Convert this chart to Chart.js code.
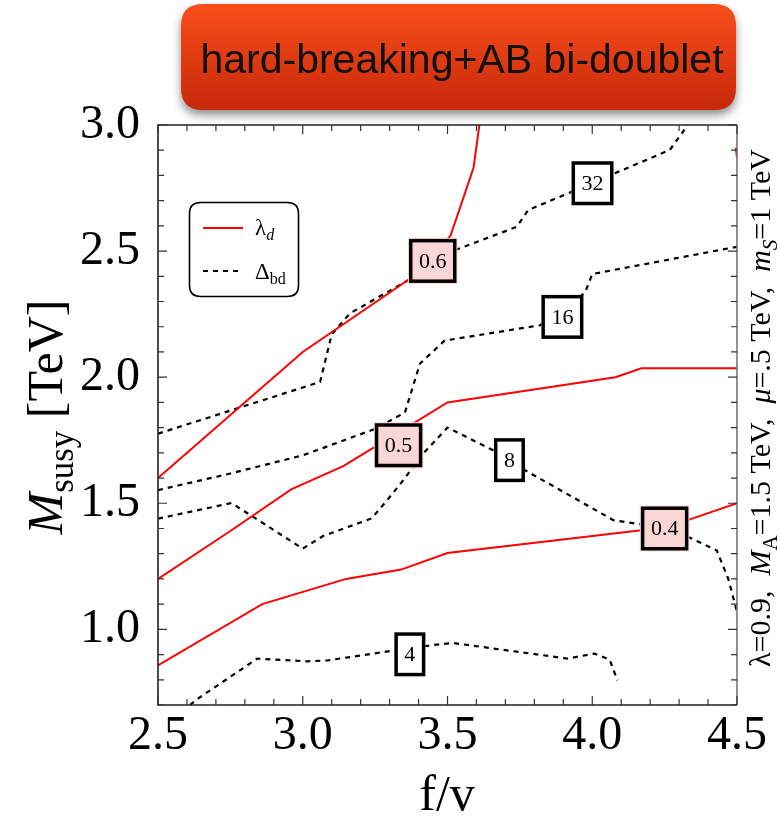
<!DOCTYPE html>
<html>
<head>
<meta charset="utf-8">
<script src="https://cdn.jsdelivr.net/npm/chart.js@4.4.0/dist/chart.umd.min.js"></script>
<style>
  html, body { margin: 0; padding: 0; background: #fff; }
  #wrap { width: 780px; height: 820px; }
</style>
</head>
<body>
<div id="wrap"><canvas id="myChart" width="780" height="820"></canvas></div>
<script>
// lambda_d contours (red), f/v on x, M_susy [TeV] on y
var lam07X = [4.496, 4.5];
var lam07Y = [2.91, 2.87];
var lam06X = [2.5, 3.0, 3.37, 3.51, 3.59, 3.61];
var lam06Y = [1.6, 2.1, 2.39, 2.56, 2.83, 3.0];
var lam05X = [2.5, 2.75, 2.96, 3.14, 3.33, 3.5, 4.08, 4.17, 4.5];
var lam05Y = [1.2, 1.39, 1.555, 1.647, 1.78, 1.9, 2.0, 2.035, 2.035];
var lam04X = [2.5, 2.86, 3.15, 3.34, 3.5, 4.17, 4.33, 4.5];
var lam04Y = [0.857, 1.10, 1.20, 1.237, 1.303, 1.393, 1.433, 1.50];

// Delta_bd contours (dashed black)
var del32X = [2.5, 3.06, 3.1, 3.163, 3.365, 3.526, 3.739, 3.779, 3.917, 4.073, 4.268, 4.33];
var del32Y = [1.776, 1.981, 2.17, 2.253, 2.385, 2.504, 2.596, 2.663, 2.729, 2.806, 2.901, 3.0];
var del16X = [2.5, 2.75, 3.0, 3.25, 3.353, 3.405, 3.49, 3.82, 3.975, 4.0, 4.5];
var del16Y = [1.552, 1.618, 1.69, 1.795, 1.86, 2.054, 2.145, 2.206, 2.335, 2.409, 2.517];
var del8X = [2.5, 2.754, 3.0, 3.07, 3.238, 3.29, 3.347, 3.416, 3.5, 3.658, 3.768, 4.073, 4.165, 4.332, 4.43, 4.47, 4.5];
var del8Y = [1.439, 1.501, 1.32, 1.37, 1.44, 1.51, 1.591, 1.697, 1.80, 1.710, 1.631, 1.433, 1.417, 1.366, 1.313, 1.2, 1.07];
var del4X = [2.61, 2.644, 2.843, 3.015, 3.087, 3.319, 3.445, 3.518, 3.915, 4.008, 4.06, 4.087];
var del4Y = [0.70, 0.73, 0.884, 0.873, 0.877, 0.917, 0.937, 0.946, 0.884, 0.904, 0.88, 0.798];

// contour labels
var tagText = ['0.6', '0.5', '0.4', '32', '16', '8', '4'];
var tagX = [3.449, 3.331, 4.25, 4.001, 3.897, 3.714, 3.370];
var tagY = [2.461, 1.730, 1.400, 2.769, 2.239, 1.671, 0.901];
var tagKind = ['lam', 'lam', 'lam', 'del', 'del', 'del', 'del'];

var xTickVals = [2.5, 3.0, 3.5, 4.0, 4.5];
var yTickVals = [1.0, 1.5, 2.0, 2.5, 3.0];

var SERIF = '"Liberation Serif", "Times New Roman", serif';

function pts(xs, ys) {
    return xs.map(function (x, i) { return { x: x, y: ys[i] }; });
}
function redLine(xs, ys) {
    return { data: pts(xs, ys), borderColor: '#ff0000', borderWidth: 2, pointRadius: 0, tension: 0, fill: false };
}
function dashLine(xs, ys) {
    return { data: pts(xs, ys), borderColor: '#000000', borderWidth: 2.2, borderDash: [5, 5], pointRadius: 0, tension: 0, fill: false };
}

function roundRect(ctx, x, y, w, h, r) {
    ctx.beginPath();
    ctx.moveTo(x + r, y);
    ctx.lineTo(x + w - r, y);
    ctx.quadraticCurveTo(x + w, y, x + w, y + r);
    ctx.lineTo(x + w, y + h - r);
    ctx.quadraticCurveTo(x + w, y + h, x + w - r, y + h);
    ctx.lineTo(x + r, y + h);
    ctx.quadraticCurveTo(x, y + h, x, y + h - r);
    ctx.lineTo(x, y + r);
    ctx.quadraticCurveTo(x, y, x + r, y);
    ctx.closePath();
}

// text with italic / subscript pieces
function segFont(s, size) {
    var sz = s.sub ? size * 0.7 : size;
    return (s.it ? 'italic ' : '') + sz + 'px ' + SERIF;
}
function richWidth(ctx, segs, size) {
    var w = 0;
    segs.forEach(function (s) { ctx.font = segFont(s, size); w += ctx.measureText(s.t).width; });
    return w;
}
function drawRich(ctx, segs, x, y, size) {
    ctx.textAlign = 'left';
    ctx.textBaseline = 'alphabetic';
    segs.forEach(function (s) {
        ctx.font = segFont(s, size);
        ctx.fillText(s.t, x, y + (s.sub ? size * 0.22 : 0));
        x += ctx.measureText(s.t).width;
    });
}

var decor = {
    id: 'decor',
    beforeDraw: function (chart) {
        var ctx = chart.ctx;
        ctx.save();
        ctx.fillStyle = '#fff';
        ctx.fillRect(0, 0, chart.width, chart.height);
        // title banner
        ctx.shadowColor = 'rgba(0,0,0,0.45)';
        ctx.shadowBlur = 10;
        ctx.shadowOffsetY = 5;
        var g = ctx.createLinearGradient(0, 4, 0, 112);
        g.addColorStop(0, '#f94f1b');
        g.addColorStop(1, '#c6270a');
        ctx.fillStyle = g;
        roundRect(ctx, 181, 4, 555, 106, 22);
        ctx.fill();
        ctx.shadowColor = 'transparent';
        ctx.fillStyle = '#111';
        ctx.font = '41px "Liberation Sans", Arial, sans-serif';
        ctx.textAlign = 'center';
        ctx.textBaseline = 'alphabetic';
        ctx.fillText('hard-breaking+AB bi-doublet', 462, 73);
        ctx.restore();
    },
    afterDatasetsDraw: function (chart) {
        var ctx = chart.ctx, a = chart.chartArea;
        var xs = chart.scales.x, ys = chart.scales.y;
        ctx.save();

        // frame
        ctx.lineWidth = 1.6;
        ctx.strokeStyle = '#222';
        ctx.beginPath();
        ctx.moveTo(a.right, a.top); ctx.lineTo(a.left, a.top); ctx.lineTo(a.left, a.bottom); ctx.lineTo(a.right, a.bottom);
        ctx.stroke();
        ctx.strokeStyle = '#777';
        ctx.beginPath(); ctx.moveTo(a.right, a.top); ctx.lineTo(a.right, a.bottom); ctx.stroke();

        // inward ticks on all four sides
        ctx.lineWidth = 1.2;
        ctx.strokeStyle = '#333';
        ctx.beginPath();
        for (var i = 0; i <= 20; i++) {
            var v = 2.5 + i * 0.1;
            var px = xs.getPixelForValue(v);
            var len = (i % 5 === 0) ? 9 : 6;
            ctx.moveTo(px, a.bottom); ctx.lineTo(px, a.bottom - len);
            ctx.moveTo(px, a.top); ctx.lineTo(px, a.top + len);
        }
        for (var j = 0; j <= 23; j++) {
            var w = 0.7 + j * 0.1;
            var py = ys.getPixelForValue(w);
            var l2 = (Math.abs(w * 2 - Math.round(w * 2)) < 1e-6) ? 9 : 6;
            ctx.moveTo(a.left, py); ctx.lineTo(a.left + l2, py);
            ctx.moveTo(a.right, py); ctx.lineTo(a.right - l2, py);
        }
        ctx.stroke();

        // contour labels
        tagText.forEach(function (t, k) {
            var cx = xs.getPixelForValue(tagX[k]);
            var cy = ys.getPixelForValue(tagY[k]);
            ctx.font = '22px ' + SERIF;
            var bw = ctx.measureText(t).width + 20, bh = 44;
            if (tagKind[k] === 'lam') {
                ctx.fillStyle = '#fbd6d6';
                ctx.fillRect(cx - bw / 2 - 1, cy - bh / 2 - 1, bw + 2, bh + 2);
            } else {
                ctx.fillStyle = '#fff';
                ctx.fillRect(cx - bw / 2, cy - bh / 2, bw, bh);
            }
            ctx.lineWidth = 3.5;
            ctx.strokeStyle = '#000';
            ctx.strokeRect(cx - bw / 2 + 1.75, cy - bh / 2 + 1.75, bw - 3.5, bh - 3.5);
            ctx.fillStyle = '#000';
            ctx.textAlign = 'center';
            ctx.textBaseline = 'middle';
            ctx.fillText(t, cx, cy + 1);
        });

        // legend
        ctx.lineWidth = 1.6;
        ctx.strokeStyle = '#000';
        ctx.fillStyle = '#fff';
        roundRect(ctx, 189.5, 202.5, 109, 94, 11);
        ctx.fill();
        ctx.stroke();
        ctx.strokeStyle = '#ff0000';
        ctx.lineWidth = 2;
        ctx.beginPath(); ctx.moveTo(203, 228); ctx.lineTo(243, 228); ctx.stroke();
        ctx.strokeStyle = '#000';
        ctx.lineWidth = 2.2;
        ctx.setLineDash([5, 5]);
        ctx.beginPath(); ctx.moveTo(203, 271); ctx.lineTo(240, 271); ctx.stroke();
        ctx.setLineDash([]);
        ctx.fillStyle = '#000';
        drawRich(ctx, [{ t: 'λ' }, { t: 'd', it: true, sub: true }], 255, 235, 23);
        drawRich(ctx, [{ t: 'Δ' }, { t: 'bd', sub: true }], 255, 279, 23);

        // y-axis title
        var yT = [{ t: 'M', it: true }, { t: 'susy', sub: true }, { t: ' [TeV]' }];
        ctx.save();
        ctx.translate(62, 417);
        ctx.rotate(-Math.PI / 2);
        drawRich(ctx, yT, -richWidth(ctx, yT, 50) / 2, 0, 50);
        ctx.restore();

        // x-axis title
        var xT = [{ t: 'f/v' }];
        drawRich(ctx, xT, 447 - richWidth(ctx, xT, 50) / 2, 810, 50);

        // parameter note on the right
        var note = [{ t: 'λ=0.9,  ' }, { t: 'M', it: true }, { t: 'A', sub: true }, { t: '=1.5 TeV,  ' },
                    { t: 'μ', it: true }, { t: '=.5 TeV,  ' }, { t: 'm', it: true }, { t: 'S', it: true, sub: true }, { t: '=1 TeV' }];
        ctx.save();
        ctx.translate(770, 408);
        ctx.rotate(-Math.PI / 2);
        drawRich(ctx, note, -richWidth(ctx, note, 30) / 2, 0, 30);
        ctx.restore();

        ctx.restore();
    }
};

var ctx = document.getElementById('myChart').getContext('2d');
var myChart = new Chart(ctx, {
    type: 'line',
    data: {
        datasets: [
            redLine(lam07X, lam07Y),
            redLine(lam06X, lam06Y),
            redLine(lam05X, lam05Y),
            redLine(lam04X, lam04Y),
            dashLine(del32X, del32Y),
            dashLine(del16X, del16Y),
            dashLine(del8X, del8Y),
            dashLine(del4X, del4Y)
        ]
    },
    options: {
        responsive: false,
        animation: false,
        devicePixelRatio: 1,
        layout: { padding: { top: 125, right: 43, left: 0, bottom: 0 } },
        plugins: { legend: { display: false }, tooltip: { enabled: false } },
        scales: {
            x: {
                type: 'linear',
                min: 2.5,
                max: 4.5,
                afterFit: function (s) { s.height = 115; },
                afterBuildTicks: function (s) { s.ticks = xTickVals.map(function (v) { return { value: v }; }); },
                grid: { display: false },
                border: { display: false },
                ticks: {
                    autoSkip: false, maxRotation: 0, padding: -5, color: '#000',
                    font: { family: SERIF, size: 48 },
                    callback: function (v) { return v.toFixed(1); }
                }
            },
            y: {
                type: 'linear',
                min: 0.7,
                max: 3.0,
                afterFit: function (s) { s.width = 158; },
                afterBuildTicks: function (s) { s.ticks = yTickVals.map(function (v) { return { value: v }; }); },
                grid: { display: false },
                border: { display: false },
                ticks: {
                    autoSkip: false, padding: 10, color: '#000',
                    font: { family: SERIF, size: 48 },
                    callback: function (v) { return v.toFixed(1); }
                }
            }
        }
    },
    plugins: [decor]
});
</script>
</body>
</html>
